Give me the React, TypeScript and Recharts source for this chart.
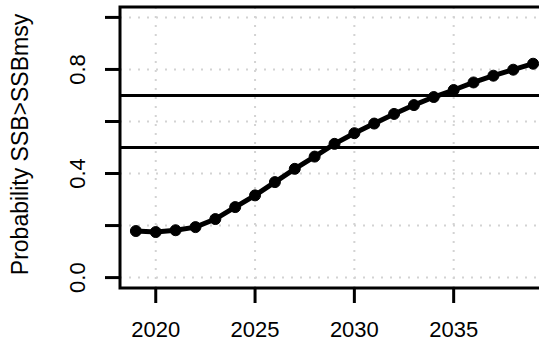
import { LineChart, Line, XAxis, YAxis, CartesianGrid, ReferenceLine, ReferenceArea } from 'recharts';

const years = [2019, 2020, 2021, 2022, 2023, 2024, 2025, 2026, 2027, 2028, 2029, 2030, 2031, 2032, 2033, 2034, 2035, 2036, 2037, 2038, 2039];
const probability = [0.179, 0.175, 0.182, 0.194, 0.225, 0.271, 0.316, 0.367, 0.418, 0.465, 0.514, 0.555, 0.592, 0.629, 0.663, 0.694, 0.721, 0.75, 0.776, 0.799, 0.822];
const xTicks = [2020, 2025, 2030, 2035];
const yTicks = [0, 0.2, 0.4, 0.6, 0.8, 1];
const yLabelled = [0, 0.4, 0.8];
const thresholds = [0.5, 0.7];

const xDomain = [2018.2, 2039.8];
const yDomain = [-0.04, 1.04];
const font = '"Liberation Sans", Arial, sans-serif';

const data = years.map((year, i) => ({ year, p: probability[i] }));

function YTick({ x, y, payload }: any) {
  if (!yLabelled.some((v) => Math.abs(v - payload.value) < 1e-9)) return null;
  const cx = x - 28;
  return (
    <text x={cx} y={y} dy="0.35em" textAnchor="middle" transform={`rotate(-90 ${cx} ${y})`} fontSize={22} fontFamily={font} fill="#000">
      {payload.value.toFixed(1)}
    </text>
  );
}

function XTick({ x, y, payload }: any) {
  return (
    <text x={x} y={y + 34} textAnchor="middle" fontSize={22} fontFamily={font} fill="#000">
      {payload.value}
    </text>
  );
}

function YTitle({ viewBox }: any) {
  const cx = 20;
  const cy = viewBox.y + viewBox.height / 2 - 3;
  return (
    <text x={cx} y={cy} dy="0.35em" textAnchor="middle" transform={`rotate(-90 ${cx} ${cy})`} fontSize={23} fontFamily={font} fill="#000">
      Probability SSB&gt;SSBmsy
    </text>
  );
}

export default function App() {
  return (
    <div style={{ position: 'fixed', top: 0, left: 0, width: 539, height: 341, overflow: 'hidden', background: '#fff' }}>
      <LineChart width={560} height={341} data={data} margin={{ top: 7, right: 11, bottom: 0, left: 0 }}>
        <CartesianGrid stroke="#d3d3d3" strokeWidth={2} strokeDasharray="2 7" />
        <XAxis
          dataKey="year"
          type="number"
          domain={xDomain}
          ticks={xTicks}
          allowDataOverflow
          height={53}
          axisLine={false}
          tickLine={{ stroke: '#000', strokeWidth: 3 }}
          tickSize={15}
          tickMargin={0}
          tick={<XTick />}
        />
        <YAxis
          type="number"
          domain={yDomain}
          ticks={yTicks}
          allowDataOverflow
          width={120}
          axisLine={false}
          tickLine={{ stroke: '#000', strokeWidth: 3 }}
          tickSize={15}
          tickMargin={0}
          tick={<YTick />}
          label={<YTitle />}
        />
        {thresholds.map((t) => (
          <ReferenceLine key={t} y={t} stroke="#000" strokeWidth={3} />
        ))}
        <ReferenceArea x1={xDomain[0]} x2={xDomain[1]} y1={yDomain[0]} y2={yDomain[1]} fill="none" fillOpacity={0} stroke="#000" strokeWidth={3} ifOverflow="visible" />
        <Line
          dataKey="p"
          stroke="#000"
          strokeWidth={5}
          dot={{ r: 5.5, fill: '#000', stroke: '#000', strokeWidth: 1 }}
          isAnimationActive={false}
        />
      </LineChart>
    </div>
  );
}
